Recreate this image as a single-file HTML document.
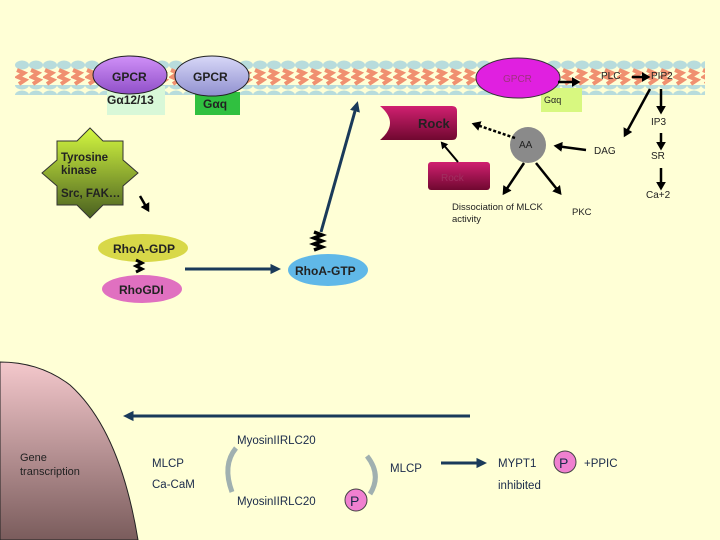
<!DOCTYPE html>
<html><head><meta charset="utf-8"><style>
body{margin:0;width:720px;height:540px;overflow:hidden;background:#FFFFD6;}
svg{display:block}
text{font-family:"Liberation Sans",sans-serif;}
</style></head><body>
<svg width="720" height="540" viewBox="0 0 720 540" xmlns="http://www.w3.org/2000/svg">
<defs>
<pattern id="top" x="15" y="60" width="14" height="10" patternUnits="userSpaceOnUse"><ellipse cx="7" cy="5" rx="7" ry="4.5" fill="#b8dcdc"/></pattern>
<pattern id="mid" x="15" y="68" width="14" height="18" patternUnits="userSpaceOnUse"><path d="M2 2 L9 5 L3 9 L10 12 L4 16" stroke="#f09070" stroke-width="4" fill="none"/></pattern>
<linearGradient id="nuc" x1="0" y1="0" x2="0" y2="1"><stop offset="0" stop-color="#f4c8cc"/><stop offset="1" stop-color="#7a5c5c"/></linearGradient>
<linearGradient id="star" x1="0" y1="0" x2="0" y2="1"><stop offset="0" stop-color="#d4f840"/><stop offset="1" stop-color="#4a6020"/></linearGradient>
<linearGradient id="rock" x1="0" y1="0" x2="0" y2="1"><stop offset="0" stop-color="#d02070"/><stop offset="1" stop-color="#700830"/></linearGradient>
<linearGradient id="g1" x1="0" y1="0" x2="0" y2="1"><stop offset="0" stop-color="#d090f8"/><stop offset="1" stop-color="#9050c8"/></linearGradient>
<linearGradient id="g2" x1="0" y1="0" x2="0" y2="1"><stop offset="0" stop-color="#d8d8f8"/><stop offset="1" stop-color="#9090d0"/></linearGradient>
<marker id="ab" markerWidth="4" markerHeight="4" refX="2.5" refY="2" orient="auto" markerUnits="strokeWidth"><path d="M0 0 L3.5 2 L0 4z" fill="#000"/></marker>
<marker id="an" markerWidth="4" markerHeight="4" refX="2.5" refY="2" orient="auto" markerUnits="strokeWidth"><path d="M0 0.3 L3.5 2 L0 3.7z" fill="#1a3a5a"/></marker>
</defs>
<rect x="15" y="60" width="690" height="10" fill="url(#top)"/>
<rect x="15" y="85" width="690" height="10" fill="url(#top)"/>
<rect x="15" y="68" width="690" height="18" fill="url(#mid)"/>
<path d="M0 362 Q40 362 70 385 Q120 430 138 540 L0 540Z" fill="url(#nuc)" stroke="#222" stroke-width="1"/>
<rect x="107" y="86" width="58" height="29" fill="#d8f8d8"/>
<ellipse cx="130" cy="75" rx="37" ry="19" fill="url(#g1)" stroke="#222"/>
<text x="112" y="81" font-size="12" font-weight="bold" fill="#222">GPCR</text>
<text x="107" y="104" font-size="12" font-weight="bold" fill="#222">Gα12/13</text>
<rect x="195" y="92" width="45" height="23" fill="#30c040"/>
<ellipse cx="212" cy="76" rx="37" ry="20" fill="url(#g2)" stroke="#222"/>
<text x="193" y="81" font-size="12" font-weight="bold" fill="#222">GPCR</text>
<text x="203" y="108" font-size="12" font-weight="bold" fill="#222">Gαq</text>
<rect x="541" y="88" width="41" height="24" fill="#d8f880"/>
<text x="544" y="103" font-size="9" fill="#222">Gαq</text>
<ellipse cx="518" cy="78" rx="42" ry="20" fill="#e020e0" stroke="#333"/>
<text x="503" y="82" font-size="10" fill="#a03080">GPCR</text>
<line x1="558" y1="82" x2="578" y2="82" stroke="#000" stroke-width="2.5" marker-end="url(#ab)"/>
<text x="601" y="79" font-size="10" fill="#222">PLC</text>
<line x1="632" y1="77" x2="648" y2="77" stroke="#000" stroke-width="2.5" marker-end="url(#ab)"/>
<text x="651" y="79" font-size="10" fill="#222">PIP2</text>
<path d="M380 106 L452 106 Q457 106 457 111 L457 135 Q457 140 452 140 L380 140 Q400 123 380 106Z" fill="url(#rock)"/>
<text x="418" y="128" font-size="13" font-weight="bold" fill="#222">Rock</text>
<rect x="428" y="162" width="62" height="28" rx="3" fill="url(#rock)"/>
<text x="441" y="181" font-size="10" fill="#a03060">Rock</text>
<circle cx="528" cy="145" r="18" fill="#8a8a8a"/>
<text x="519" y="148" font-size="10" fill="#222">AA</text>
<text x="594" y="154" font-size="10" fill="#222">DAG</text>
<text x="651" y="125" font-size="10" fill="#222">IP3</text>
<text x="651" y="159" font-size="10" fill="#222">SR</text>
<text x="646" y="198" font-size="10" fill="#222">Ca+2</text>
<text x="452" y="210" font-size="9.5" fill="#222">Dissociation of MLCK</text>
<text x="452" y="222" font-size="9.5" fill="#222">activity</text>
<text x="572" y="215" font-size="9.5" fill="#222">PKC</text>
<g stroke="#000" stroke-width="2.5" fill="none">
<line x1="650" y1="89" x2="625" y2="135" marker-end="url(#ab)"/>
<line x1="661" y1="89" x2="661" y2="112" marker-end="url(#ab)"/>
<line x1="661" y1="133" x2="661" y2="148" marker-end="url(#ab)"/>
<line x1="661" y1="168" x2="661" y2="188" marker-end="url(#ab)"/>
<line x1="586" y1="150" x2="556" y2="146" marker-end="url(#ab)"/>
<line x1="515" y1="138" x2="474" y2="124" stroke-dasharray="3,2" marker-end="url(#ab)"/>
<line x1="458" y1="162" x2="442" y2="143" stroke-width="2" marker-end="url(#ab)"/>
<line x1="524" y1="163" x2="504" y2="193" marker-end="url(#ab)"/>
<line x1="536" y1="163" x2="560" y2="193" marker-end="url(#ab)"/>
<line x1="140" y1="196" x2="148" y2="210" stroke-width="2.5" marker-end="url(#ab)"/>
</g>
<polygon points="90,128 103,141 123,141 123,160 138,173 123,186 123,205 103,205 90,218 77,205 57,205 57,186 42,173 57,160 57,141 77,141" fill="url(#star)" stroke="#333"/>
<text x="61" y="161" font-size="11.5" font-weight="bold" fill="#222">Tyrosine</text>
<text x="61" y="174" font-size="11.5" font-weight="bold" fill="#222">kinase</text>
<text x="61" y="197" font-size="11.5" font-weight="bold" fill="#222">Src, FAK…</text>
<line x1="321" y1="232" x2="357" y2="104" stroke="#1a3a5a" stroke-width="3" marker-end="url(#an)"/>
<ellipse cx="143" cy="248" rx="45" ry="14" fill="#d8d848"/>
<text x="113" y="253" font-size="12" font-weight="bold" fill="#222">RhoA-GDP</text>
<ellipse cx="142" cy="289" rx="40" ry="14" fill="#e070c0"/>
<text x="119" y="294" font-size="12" font-weight="bold" fill="#222">RhoGDI</text>
<path d="M136 260 l6 3 l-6 3 l6 3 l-6 3" stroke="#000" stroke-width="3" fill="none"/>
<ellipse cx="328" cy="270" rx="40" ry="16" fill="#60b8e8"/>
<text x="295" y="275" font-size="12" font-weight="bold" fill="#222">RhoA-GTP</text>
<path d="M314 232 l8 3 l-8 3 l8 3 l-8 3 l8 3 l-8 3" stroke="#000" stroke-width="3.5" fill="none"/>
<line x1="185" y1="269" x2="278" y2="269" stroke="#1a3a5a" stroke-width="3" marker-end="url(#an)"/>
<line x1="470" y1="416" x2="126" y2="416" stroke="#1a3a5a" stroke-width="3" marker-end="url(#an)"/>
<text x="20" y="461" font-size="11" fill="#222">Gene</text>
<text x="20" y="475" font-size="11" fill="#222">transcription</text>
<g font-size="11.5" fill="#1a2a4a">
<text x="237" y="444">MyosinIIRLC20</text>
<text x="152" y="467">MLCP</text>
<text x="152" y="488">Ca-CaM</text>
<text x="237" y="505">MyosinIIRLC20</text>
<text x="390" y="472">MLCP</text>
<text x="498" y="467">MYPT1</text>
<text x="498" y="489">inhibited</text>
<text x="584" y="467">+PPIC</text>
</g>
<path d="M236 448 Q222 465 232 492" stroke="#a0b0b0" stroke-width="5" fill="none"/>
<path d="M367 456 Q382 475 370 494" stroke="#a0b0b0" stroke-width="5" fill="none"/>
<line x1="441" y1="463" x2="484" y2="463" stroke="#1a3a5a" stroke-width="3" marker-end="url(#an)"/>
<circle cx="356" cy="500" r="11" fill="#f080d0" stroke="#444"/>
<text x="350" y="506" font-size="14" fill="#1a2a4a">P</text>
<circle cx="565" cy="462" r="11" fill="#f080d0" stroke="#444"/>
<text x="559" y="468" font-size="14" fill="#1a2a4a">P</text>
</svg>
</body></html>
